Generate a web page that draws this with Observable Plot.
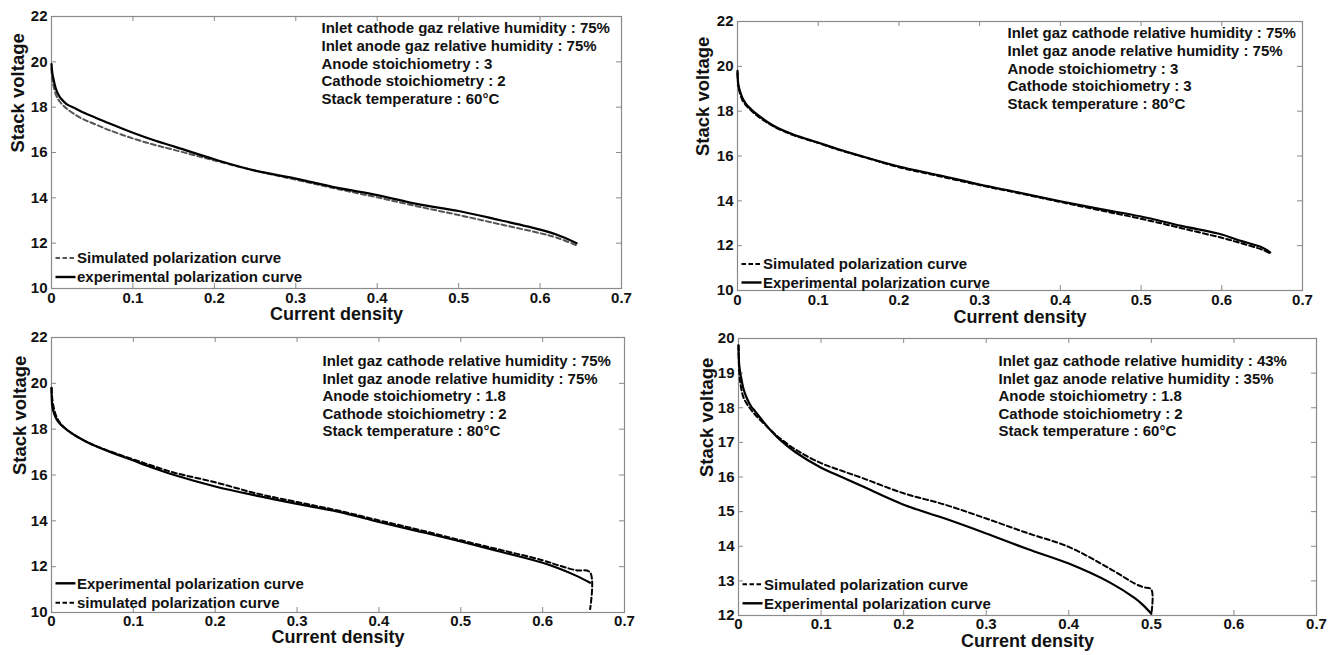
<!DOCTYPE html>
<html><head><meta charset="utf-8">
<script src="https://cdn.jsdelivr.net/npm/d3@7"></script>
<script src="https://cdn.jsdelivr.net/npm/@observablehq/plot@0.6"></script>
<style>
body{margin:0;background:#fff;}
#wrap{position:relative;width:1336px;height:655px;overflow:hidden;background:#fff;}
#wrap svg{position:absolute;overflow:visible;}
</style></head><body><div id="wrap"></div>
<script>
// ---- tick labels ----
const xTicks = [0, 0.1, 0.2, 0.3, 0.4, 0.5, 0.6, 0.7];
const yTicksA = [10, 12, 14, 16, 18, 20, 22];
const yTicksB = [12, 13, 14, 15, 16, 17, 18, 19, 20];

// ---- panel 1 (top-left) ----
const x1 = [0,0.001,0.003,0.006,0.01,0.015,0.02,0.03,0.04,0.05,0.07,0.1,0.125,0.15,0.2,0.25,0.3,0.35,0.4,0.45,0.5,0.55,0.6,0.62,0.645];
const exp1 = [19.9,19.5,19.15,18.75,18.45,18.25,18.1,17.93,17.75,17.6,17.3,16.87,16.55,16.27,15.7,15.2,14.85,14.45,14.12,13.72,13.42,13.02,12.6,12.38,12.0];
const sim1 = [19.7,19.2,18.85,18.5,18.25,18.05,17.9,17.65,17.45,17.3,17.0,16.62,16.35,16.12,15.65,15.2,14.8,14.4,14.02,13.62,13.24,12.84,12.44,12.25,11.9];
const notes1 = ["Inlet cathode gaz relative humidity : 75%","Inlet anode gaz relative humidity : 75%","Anode stoichiometry : 3","Cathode stoichiometry : 2","Stack temperature : 60°C"];
const legend1 = ["Simulated polarization curve","experimental polarization curve"];

// ---- panel 2 (top-right) ----
const x2 = [0,0.001,0.003,0.006,0.01,0.015,0.02,0.03,0.04,0.05,0.07,0.1,0.125,0.15,0.2,0.25,0.3,0.35,0.4,0.45,0.5,0.55,0.6,0.62,0.65,0.66];
const exp2 = [19.8,19.2,18.9,18.6,18.35,18.15,17.98,17.7,17.45,17.25,16.95,16.6,16.3,16.03,15.53,15.14,14.73,14.36,13.98,13.63,13.3,12.88,12.5,12.25,11.92,11.7];
const sim2 = [19.7,19.1,18.8,18.5,18.28,18.1,17.93,17.65,17.42,17.22,16.92,16.58,16.28,16.02,15.5,15.1,14.7,14.33,13.95,13.57,13.2,12.78,12.35,12.15,11.82,11.65];
const notes2 = ["Inlet gaz cathode relative humidity : 75%","Inlet gaz anode relative humidity : 75%","Anode stoichiometry : 3","Cathode stoichiometry : 3","Stack temperature : 80°C"];
const legend2 = ["Simulated polarization curve","Experimental polarization curve"];

// ---- panel 3 (bottom-left) ----
const x3 = [0,0.001,0.003,0.006,0.01,0.015,0.02,0.03,0.04,0.05,0.07,0.1,0.125,0.15,0.2,0.25,0.3,0.35,0.4,0.45,0.5,0.55,0.6,0.62,0.64,0.658];
const exp3 = [19.8,19.0,18.7,18.45,18.25,18.08,17.94,17.7,17.5,17.32,17.03,16.63,16.3,16.0,15.5,15.1,14.74,14.4,13.95,13.53,13.1,12.64,12.17,11.92,11.62,11.3];
const xs3 = [0,0.001,0.003,0.006,0.01,0.015,0.02,0.03,0.04,0.05,0.07,0.1,0.125,0.15,0.2,0.25,0.3,0.35,0.4,0.45,0.5,0.55,0.6,0.62,0.64,0.658,0.658];
const sim3 = [19.8,19.3,18.9,18.55,18.3,18.1,17.95,17.7,17.5,17.33,17.05,16.68,16.38,16.1,15.68,15.2,14.82,14.45,14.02,13.6,13.15,12.72,12.28,12.05,11.85,11.75,10.15];
const notes3 = ["Inlet gaz cathode relative humidity : 75%","Inlet gaz anode relative humidity : 75%","Anode stoichiometry : 1.8","Cathode stoichiometry : 2","Stack temperature : 80°C"];
const legend3 = ["Experimental polarization curve","simulated polarization curve"];

// ---- panel 4 (bottom-right) ----
const x4 = [0,0.001,0.003,0.006,0.01,0.015,0.02,0.03,0.04,0.05,0.07,0.1,0.125,0.15,0.2,0.25,0.3,0.35,0.4,0.45,0.48,0.49,0.5];
const exp4 = [19.8,19.2,18.9,18.55,18.28,18.05,17.9,17.6,17.32,17.08,16.7,16.27,16.0,15.73,15.2,14.8,14.37,13.92,13.5,12.95,12.5,12.3,12.05];
const xs4 = [0,0.001,0.003,0.006,0.01,0.015,0.02,0.03,0.04,0.05,0.07,0.1,0.125,0.15,0.2,0.25,0.3,0.35,0.4,0.45,0.48,0.49,0.5,0.5];
const sim4 = [19.8,19.0,18.6,18.3,18.12,17.95,17.8,17.56,17.33,17.12,16.78,16.4,16.18,15.97,15.53,15.2,14.8,14.38,13.98,13.35,12.92,12.82,12.75,12.05];
const notes4 = ["Inlet gaz cathode relative humidity : 43%","Inlet gaz anode relative humidity : 35%","Anode stoichiometry : 1.8","Cathode stoichiometry : 2","Stack temperature : 60°C"];
const legend4 = ["Simulated polarization curve","Experimental polarization curve"];

const FONT = "'Liberation Sans', Arial, Helvetica, sans-serif";
const FRAME = "#8a8a8a";
const DASH = "5,3";

function pts(xs, ys) { return xs.map((x, i) => ({x, y: ys[i]})); }

function panel(cfg) {
  const {left, top, width, height, mt, mr, mb, ml, yDomain, yTicks, xe, ye, xs, ys, simColor,
         notes, notesDx, notesDy, legend, legendTypes, legendDy, xTitleDy, yTitleDx, tickPad} = cfg;
  const iw = width - ml - mr, ih = height - mt - mb;
  const legendMarks = legend.map((lab, i) =>
    Plot.text([lab], {frameAnchor: "bottom-left", textAnchor: "start", lineAnchor: "middle",
      dx: 25.5, dy: -legendDy[i], fontSize: 15, fontWeight: "bold", fill: "#111"}));
  const svg = Plot.plot({
    width, height, marginTop: mt, marginRight: mr, marginBottom: mb, marginLeft: ml,
    style: {fontFamily: FONT, fontWeight: "bold", fontSize: "15px", color: "#111", background: "transparent"},
    x: {domain: [0, 0.7], axis: null},
    y: {domain: yDomain, axis: null},
    marks: [
      Plot.frame({stroke: FRAME, strokeWidth: 1.2}),
      Plot.ruleX(xTicks, {x: d => d, stroke: FRAME, insetTop: ih - 5}),
      Plot.ruleX(xTicks, {x: d => d, stroke: FRAME, insetBottom: ih - 5}),
      Plot.ruleY(yTicks, {y: d => d, stroke: FRAME, insetRight: iw - 5}),
      Plot.ruleY(yTicks, {y: d => d, stroke: FRAME, insetLeft: iw - 5}),
      Plot.axisX(xTicks, {anchor: "bottom", tickSize: 0, tickPadding: tickPad, tickFormat: d => String(d), label: null, fontSize: 15, fontWeight: "bold", fill: "#111"}),
      Plot.axisY(yTicks, {anchor: "left", tickSize: 0, tickPadding: 4, tickFormat: d => String(d), label: null, fontSize: 15, fontWeight: "bold", fill: "#111"}),
      Plot.line(pts(xs, ys), {x: "x", y: "y", stroke: simColor, strokeWidth: 2, strokeDasharray: DASH, curve: "catmull-rom"}),
      Plot.line(pts(xe, ye), {x: "x", y: "y", stroke: "#000", strokeWidth: 2.2, curve: "catmull-rom"}),
      Plot.text([notes.join("\n")], {frameAnchor: "top-right", textAnchor: "start", lineAnchor: "top", dx: notesDx, dy: notesDy, lineHeight: 1.17, fontSize: 15, fontWeight: "bold", fill: "#111"}),
      ...legendMarks,
      Plot.text(["Current density"], {frameAnchor: "bottom", lineAnchor: "middle", dy: xTitleDy, fontSize: 18, fontWeight: "bold", fill: "#111"}),
      Plot.text(["Stack voltage"], {frameAnchor: "left", lineAnchor: "middle", rotate: -90, dx: yTitleDx, fontSize: 18.5, fontWeight: "bold", fill: "#111"})
    ]
  });
  // legend sample lines (line styles of the two series)
  const s = d3.select(svg);
  const bottom = height - mb;
  legend.forEach((lab, i) => {
    const y = bottom - legendDy[i];
    const dashed = legendTypes[i] === "sim";
    s.append("line")
      .attr("x1", ml + 4.5).attr("x2", ml + 24.5).attr("y1", y).attr("y2", y)
      .attr("stroke", dashed ? simColor : "#000")
      .attr("stroke-width", dashed ? 2 : 2.4)
      .attr("stroke-dasharray", dashed ? "4.5,2.5" : null);
  });
  svg.style.left = left + "px";
  svg.style.top = top + "px";
  document.getElementById("wrap").appendChild(svg);
}

panel({left: 0, top: 0, width: 650, height: 325, mt: 16, mr: 29, mb: 37, ml: 51,
  yDomain: [10, 22], yTicks: yTicksA, xe: x1, ye: exp1, xs: x1, ys: sim1, simColor: "#555",
  notes: notes1, notesDx: -300, notesDy: 4.5, legend: legend1, legendTypes: ["sim", "exp"], legendDy: [30, 11],
  xTitleDy: 26, yTitleDx: -33, tickPad: 4});
panel({left: 670, top: 0, width: 666, height: 325, mt: 21, mr: 34, mb: 35, ml: 67,
  yDomain: [10, 22], yTicks: yTicksA, xe: x2, ye: exp2, xs: x2, ys: sim2, simColor: "#000",
  notes: notes2, notesDx: -295, notesDy: 4.5, legend: legend2, legendTypes: ["sim", "exp"], legendDy: [26, 7.5],
  xTitleDy: 27, yTitleDx: -34, tickPad: 4});
panel({left: 0, top: 325, width: 650, height: 330, mt: 12, mr: 26, mb: 43, ml: 51,
  yDomain: [10, 22], yTicks: yTicksA, xe: x3, ye: exp3, xs: xs3, ys: sim3, simColor: "#000",
  notes: notes3, notesDx: -302, notesDy: 16, legend: legend3, legendTypes: ["exp", "sim"], legendDy: [28.7, 9.3],
  xTitleDy: 25, yTitleDx: -31, tickPad: 3});
panel({left: 670, top: 325, width: 666, height: 330, mt: 13, mr: 20, mb: 40, ml: 68,
  yDomain: [12, 20], yTicks: yTicksB, xe: x4, ye: exp4, xs: xs4, ys: sim4, simColor: "#000",
  notes: notes4, notesDx: -318, notesDy: 15, legend: legend4, legendTypes: ["sim", "exp"], legendDy: [30.7, 11.7],
  xTitleDy: 26, yTitleDx: -31, tickPad: 3});
</script>
</body></html>
